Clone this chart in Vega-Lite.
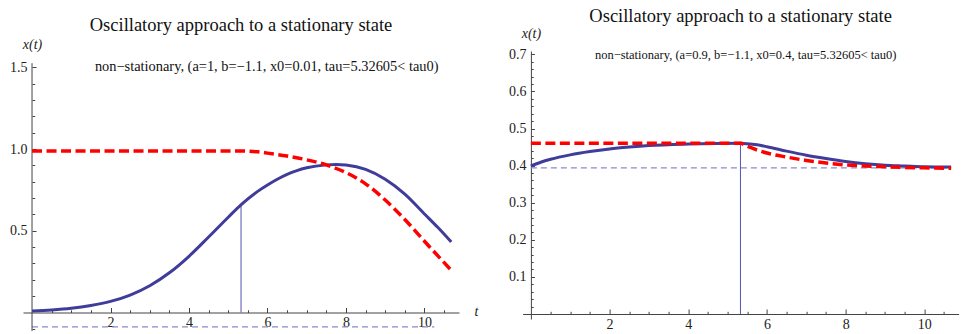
{
  "$schema": "https://vega.github.io/schema/vega-lite/v6.json",
  "padding": {"left": 9, "top": 6, "right": 0, "bottom": 0},
  "background": "white",
  "bounds": "flush",
  "spacing": 63.6,
  "datasets": {
    "Lc": [
      {"s": "x", "t": 0, "v": 0.010}, {"s": "x", "t": 0.5, "v": 0.016}, {"s": "x", "t": 1, "v": 0.026},
      {"s": "x", "t": 1.5, "v": 0.043}, {"s": "x", "t": 2, "v": 0.068}, {"s": "x", "t": 2.5, "v": 0.107},
      {"s": "x", "t": 3, "v": 0.164}, {"s": "x", "t": 3.5, "v": 0.243}, {"s": "x", "t": 4, "v": 0.344},
      {"s": "x", "t": 4.5, "v": 0.462}, {"s": "x", "t": 5, "v": 0.583}, {"s": "x", "t": 5.33, "v": 0.660},
      {"s": "x", "t": 5.75, "v": 0.741}, {"s": "x", "t": 6, "v": 0.780}, {"s": "x", "t": 6.25, "v": 0.815},
      {"s": "x", "t": 6.5, "v": 0.845}, {"s": "x", "t": 6.75, "v": 0.868},
      {"s": "x", "t": 7, "v": 0.885}, {"s": "x", "t": 7.5, "v": 0.903}, {"s": "x", "t": 7.75, "v": 0.906},
      {"s": "x", "t": 8, "v": 0.902}, {"s": "x", "t": 8.5, "v": 0.875}, {"s": "x", "t": 9, "v": 0.815},
      {"s": "x", "t": 9.5, "v": 0.724}, {"s": "x", "t": 10, "v": 0.603}, {"s": "x", "t": 10.35, "v": 0.518},
      {"s": "x", "t": 10.68, "v": 0.432},
      {"s": "d", "t": 0, "v": 0.988}, {"s": "d", "t": 5.33, "v": 0.988}, {"s": "d", "t": 5.75, "v": 0.983},
      {"s": "d", "t": 6, "v": 0.975}, {"s": "d", "t": 6.5, "v": 0.957}, {"s": "d", "t": 7, "v": 0.934},
      {"s": "d", "t": 7.5, "v": 0.903}, {"s": "d", "t": 8, "v": 0.856}, {"s": "d", "t": 8.5, "v": 0.787},
      {"s": "d", "t": 9, "v": 0.688}, {"s": "d", "t": 9.5, "v": 0.569}, {"s": "d", "t": 10, "v": 0.436},
      {"s": "d", "t": 10.68, "v": 0.259}
    ],
    "Lm": [
      {"k": "tau", "t": 5.326, "v": 0, "v2": 0.662},
      {"k": "stat", "t": 0, "t2": 10.25, "v": -0.088},
      {"k": "axis", "t": 0, "v": -0.113, "v2": 1.525},
      {"k": "note", "t": 5.98, "v": 1.476, "label": "non−stationary, (a=1, b=−1.1, x0=0.01, tau=5.32605< tau0)"}
    ],
    "Rc": [
      {"s": "x", "t": 0, "v": 0.399}, {"s": "x", "t": 0.25, "v": 0.409}, {"s": "x", "t": 0.5, "v": 0.417},
      {"s": "x", "t": 1, "v": 0.429}, {"s": "x", "t": 1.5, "v": 0.438}, {"s": "x", "t": 2, "v": 0.445},
      {"s": "x", "t": 2.5, "v": 0.450}, {"s": "x", "t": 3, "v": 0.454}, {"s": "x", "t": 4, "v": 0.458},
      {"s": "x", "t": 5.33, "v": 0.460}, {"s": "x", "t": 5.5, "v": 0.459}, {"s": "x", "t": 5.75, "v": 0.456},
      {"s": "x", "t": 6, "v": 0.451}, {"s": "x", "t": 6.5, "v": 0.439}, {"s": "x", "t": 7, "v": 0.428},
      {"s": "x", "t": 7.5, "v": 0.419}, {"s": "x", "t": 8, "v": 0.411}, {"s": "x", "t": 8.5, "v": 0.405},
      {"s": "x", "t": 9, "v": 0.401}, {"s": "x", "t": 9.5, "v": 0.399}, {"s": "x", "t": 10, "v": 0.397},
      {"s": "x", "t": 10.68, "v": 0.396},
      {"s": "d", "t": 0, "v": 0.460}, {"s": "d", "t": 5.33, "v": 0.460}, {"s": "d", "t": 5.5, "v": 0.452},
      {"s": "d", "t": 5.75, "v": 0.442}, {"s": "d", "t": 6, "v": 0.434}, {"s": "d", "t": 6.5, "v": 0.423},
      {"s": "d", "t": 7, "v": 0.414}, {"s": "d", "t": 7.5, "v": 0.407}, {"s": "d", "t": 8, "v": 0.402},
      {"s": "d", "t": 8.5, "v": 0.399}, {"s": "d", "t": 9, "v": 0.397}, {"s": "d", "t": 9.5, "v": 0.395},
      {"s": "d", "t": 10, "v": 0.394}, {"s": "d", "t": 10.68, "v": 0.393}
    ],
    "Rm": [
      {"k": "tau", "t": 5.326, "v": 0, "v2": 0.46},
      {"k": "stat", "t": 0, "t2": 10.68, "v": 0.394},
      {"k": "note", "t": 5.46, "v": 0.687, "label": "non−stationary, (a=0.9, b=−1.1, x0=0.4, tau=5.32605< tau0)"}
    ]
  },
  "hconcat": [
    {
      "width": 436,
      "height": 280,
      "title": {"text": "Oscillatory approach to a stationary state", "frame": "group", "anchor": "middle", "offset": 3},
      "resolve": {"axis": {"x": "independent", "y": "independent"}},
      "layer": [
        {
          "data": {"name": "Lm"},
          "transform": [{"filter": "datum.k === 'stat'"}],
          "mark": {"type": "rule", "color": "#8a8ac8", "strokeWidth": 1.2, "strokeDash": [6, 4]},
          "encoding": {
            "x": {"field": "t", "type": "quantitative", "scale": {"domain": [-0.23, 10.88], "nice": false, "zero": false}, "axis": null},
            "x2": {"field": "t2"},
            "y": {"field": "v", "type": "quantitative", "scale": {"domain": [-0.113, 1.5995], "nice": false, "zero": false}, "axis": null}
          }
        },
        {
          "data": {"name": "Lm"},
          "transform": [{"filter": "datum.k === 'axis'"}],
          "mark": {"type": "rule", "color": "#444444", "strokeWidth": 1},
          "encoding": {
            "x": {"field": "t", "type": "quantitative", "scale": {"domain": [-0.23, 10.88], "nice": false, "zero": false}, "axis": null},
            "y": {"field": "v", "type": "quantitative", "scale": {"domain": [-0.113, 1.5995], "nice": false, "zero": false}, "axis": null},
            "y2": {"field": "v2"}
          }
        },
        {
          "data": {"name": "Lm"},
          "transform": [{"filter": "datum.k === 'tau'"}],
          "mark": {"type": "rule", "color": "#5252b0", "strokeWidth": 1},
          "encoding": {
            "x": {"field": "t", "type": "quantitative", "scale": {"domain": [-0.23, 10.88], "nice": false, "zero": false},
              "axis": {"orient": "bottom", "values": [0.5, 1, 1.5, 2.5, 3, 3.5, 4.5, 5, 5.5, 6.5, 7, 7.5, 8.5, 9, 9.5, 10.5], "offset": -18.5, "tickSize": -2.7, "labels": false, "domain": false, "title": null, "grid": false}},
            "y": {"field": "v", "type": "quantitative", "scale": {"domain": [-0.113, 1.5995], "nice": false, "zero": false},
              "axis": {"orient": "left", "values": [-0.1, 0.1, 0.2, 0.3, 0.4, 0.6, 0.7, 0.8, 0.9, 1.1, 1.2, 1.3, 1.4], "offset": -9, "tickSize": -2.7, "labels": false, "domain": false, "title": null, "grid": false}},
            "y2": {"field": "v2"}
          }
        },
        {
          "data": {"name": "Lc"},
          "transform": [{"filter": "datum.s === 'x'"}],
          "mark": {"type": "line", "color": "#3f3d99", "strokeWidth": 3, "interpolate": "monotone"},
          "encoding": {
            "x": {"field": "t", "type": "quantitative", "scale": {"domain": [-0.23, 10.88], "nice": false, "zero": false},
              "axis": {"orient": "bottom", "values": [2, 4, 6, 8, 10], "format": "d", "offset": -18.5, "tickSize": -5, "labelPadding": 8, "labelFlush": false, "labelOverlap": false,
                "labelFont": "Liberation Serif", "labelFontSize": 14,
                "title": "t", "titleX": 451, "titleY": 3, "titleAlign": "left", "titleBaseline": "alphabetic", "titleAngle": 0, "grid": false}},
            "y": {"field": "v", "type": "quantitative", "scale": {"domain": [-0.113, 1.5995], "nice": false, "zero": false},
              "axis": {"orient": "left", "values": [0.5, 1, 1.5], "format": ".1f", "offset": -9, "tickSize": -4, "labelPadding": 9, "domain": false, "labelOverlap": false, "labelFlush": false,
                "labelFont": "Liberation Serif", "labelFontSize": 14,
                "title": "x(t)", "titleAngle": 0, "titleX": 0, "titleY": -3, "titleAlign": "center", "titleBaseline": "alphabetic", "grid": false}}
          }
        },
        {
          "data": {"name": "Lc"},
          "transform": [{"filter": "datum.s === 'd'"}],
          "mark": {"type": "line", "color": "#ff0000", "strokeWidth": 3.5, "strokeDash": [10, 4.5], "interpolate": "monotone"},
          "encoding": {
            "x": {"field": "t", "type": "quantitative", "scale": {"domain": [-0.23, 10.88], "nice": false, "zero": false}, "axis": null},
            "y": {"field": "v", "type": "quantitative", "scale": {"domain": [-0.113, 1.5995], "nice": false, "zero": false}, "axis": null}
          }
        },
        {
          "data": {"name": "Lm"},
          "transform": [{"filter": "datum.k === 'note'"}],
          "mark": {"type": "text", "font": "Liberation Serif", "fontSize": 14.4, "align": "center", "baseline": "alphabetic", "color": "#111111"},
          "encoding": {
            "x": {"field": "t", "type": "quantitative", "scale": {"domain": [-0.23, 10.88], "nice": false, "zero": false}, "axis": null},
            "y": {"field": "v", "type": "quantitative", "scale": {"domain": [-0.113, 1.5995], "nice": false, "zero": false}, "axis": null},
            "text": {"field": "label"}
          }
        }
      ]
    },
    {
      "width": 436,
      "height": 268,
      "title": {"text": "Oscillatory approach to a stationary state", "frame": "group", "anchor": "middle", "offset": 1},
      "resolve": {"axis": {"x": "independent", "y": "independent"}},
      "layer": [
        {
          "data": {"name": "Rm"},
          "transform": [{"filter": "datum.k === 'stat'"}],
          "mark": {"type": "rule", "color": "#8a8ac8", "strokeWidth": 1.2, "strokeDash": [6, 4]},
          "encoding": {
            "x": {"field": "t", "type": "quantitative", "scale": {"domain": [-0.21, 10.87], "nice": false, "zero": false}, "axis": null},
            "x2": {"field": "t2"},
            "y": {"field": "v", "type": "quantitative", "scale": {"domain": [-0.0135, 0.709], "nice": false, "zero": false}, "axis": null}
          }
        },
        {
          "data": {"name": "Rm"},
          "transform": [{"filter": "datum.k === 'tau'"}],
          "mark": {"type": "rule", "color": "#5252b0", "strokeWidth": 1},
          "encoding": {
            "x": {"field": "t", "type": "quantitative", "scale": {"domain": [-0.21, 10.87], "nice": false, "zero": false},
              "axis": {"orient": "bottom", "values": [0.5, 1, 1.5, 2.5, 3, 3.5, 4.5, 5, 5.5, 6.5, 7, 7.5, 8.5, 9, 9.5, 10.5], "offset": -5, "tickSize": -2.7, "labels": false, "domain": false, "title": null, "grid": false}},
            "y": {"field": "v", "type": "quantitative", "scale": {"domain": [-0.0135, 0.709], "nice": false, "zero": false},
              "axis": {"orient": "left", "values": [0.02, 0.04, 0.06, 0.08, 0.12, 0.14, 0.16, 0.18, 0.22, 0.24, 0.26, 0.28, 0.32, 0.34, 0.36, 0.38, 0.42, 0.44, 0.46, 0.48, 0.52, 0.54, 0.56, 0.58, 0.62, 0.64, 0.66, 0.68], "offset": -8.3, "tickSize": -2.3, "labels": false, "domain": false, "title": null, "grid": false}},
            "y2": {"field": "v2"}
          }
        },
        {
          "data": {"name": "Rc"},
          "transform": [{"filter": "datum.s === 'x'"}],
          "mark": {"type": "line", "color": "#3f3d99", "strokeWidth": 3, "interpolate": "monotone"},
          "encoding": {
            "x": {"field": "t", "type": "quantitative", "scale": {"domain": [-0.21, 10.87], "nice": false, "zero": false},
              "axis": {"orient": "bottom", "values": [2, 4, 6, 8, 10], "format": "d", "offset": -5, "tickSize": -5, "labelPadding": 8, "labelFlush": false, "labelOverlap": false,
                "labelFont": "Liberation Serif", "labelFontSize": 14,
                "title": "t", "titleX": 449, "titleY": 3, "titleAlign": "left", "titleBaseline": "alphabetic", "titleAngle": 0, "grid": false}},
            "y": {"field": "v", "type": "quantitative", "scale": {"domain": [-0.0135, 0.709], "nice": false, "zero": false},
              "axis": {"orient": "left", "values": [0.1, 0.2, 0.3, 0.4, 0.5, 0.6, 0.7], "format": ".1f", "offset": -8.3, "tickSize": -3.5, "labelPadding": 8.5, "labelOverlap": false, "labelFlush": false,
                "labelFont": "Liberation Serif", "labelFontSize": 14,
                "title": "x(t)", "titleAngle": 0, "titleX": 0, "titleY": -14, "titleAlign": "center", "titleBaseline": "alphabetic", "grid": false}}
          }
        },
        {
          "data": {"name": "Rc"},
          "transform": [{"filter": "datum.s === 'd'"}],
          "mark": {"type": "line", "color": "#ff0000", "strokeWidth": 3.5, "strokeDash": [10, 4.5], "interpolate": "monotone"},
          "encoding": {
            "x": {"field": "t", "type": "quantitative", "scale": {"domain": [-0.21, 10.87], "nice": false, "zero": false}, "axis": null},
            "y": {"field": "v", "type": "quantitative", "scale": {"domain": [-0.0135, 0.709], "nice": false, "zero": false}, "axis": null}
          }
        },
        {
          "data": {"name": "Rm"},
          "transform": [{"filter": "datum.k === 'note'"}],
          "mark": {"type": "text", "font": "Liberation Serif", "fontSize": 12.5, "align": "center", "baseline": "alphabetic", "color": "#111111"},
          "encoding": {
            "x": {"field": "t", "type": "quantitative", "scale": {"domain": [-0.21, 10.87], "nice": false, "zero": false}, "axis": null},
            "y": {"field": "v", "type": "quantitative", "scale": {"domain": [-0.0135, 0.709], "nice": false, "zero": false}, "axis": null},
            "text": {"field": "label"}
          }
        }
      ]
    }
  ],
  "config": {
    "view": {"stroke": null},
    "font": "Liberation Serif",
    "axis": {
      "labelFont": "Liberation Serif", "labelFontSize": 14, "labelColor": "#222222",
      "domainColor": "#444444", "domainWidth": 1, "tickColor": "#444444", "tickWidth": 1,
      "titleFont": "Liberation Serif", "titleFontSize": 14, "titleFontWeight": "normal", "titleFontStyle": "italic", "titleColor": "#222222",
      "grid": false
    },
    "title": {"font": "Liberation Serif", "fontSize": 18.5, "fontWeight": "normal", "color": "#111111"}
  }
}
